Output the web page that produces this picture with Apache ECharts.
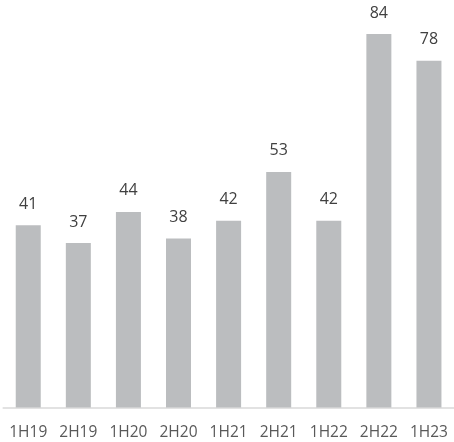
<!DOCTYPE html>
<html>
<head>
<meta charset="utf-8">
<script src="https://cdn.jsdelivr.net/npm/echarts@6/dist/echarts.min.js"></script>
<style>
html,body{margin:0;padding:0;background:#fff;}
#chart{width:454px;height:442px;}
</style>
</head>
<body>
<div id="chart"></div>
<script>
var categories = ['1H19','2H19','1H20','2H20','1H21','2H21','1H22','2H22','1H23'];
var values = [41, 37, 44, 38, 42, 53, 42, 84, 78];

var chart = echarts.init(document.getElementById('chart'), null, {renderer:'canvas'});
chart.setOption({
  animation: false,
  backgroundColor: '#ffffff',
  grid: { left: 3.2, top: 7.4, width: 455.9, bottom: 34.5, containLabel: false },
  xAxis: {
    type: 'category',
    data: categories,
    axisLine: { show: true, lineStyle: { color: '#d9d9d9', width: 1.5 } },
    axisTick: { show: false },
    axisLabel: { interval: 0, margin: 17, color: '#595959', fontSize: 15.5, fontFamily: 'Open Sans' }
  },
  yAxis: {
    type: 'value',
    min: 0,
    max: 90,
    show: false,
    splitLine: { show: false }
  },
  series: [{
    type: 'bar',
    data: values,
    barWidth: 25,
    itemStyle: { color: '#bbbdbf' },
    label: {
      show: true,
      position: 'top',
      distance: 13,
      color: '#404040',
      fontSize: 16,
      fontFamily: 'Open Sans'
    }
  }]
});
</script>
</body>
</html>
